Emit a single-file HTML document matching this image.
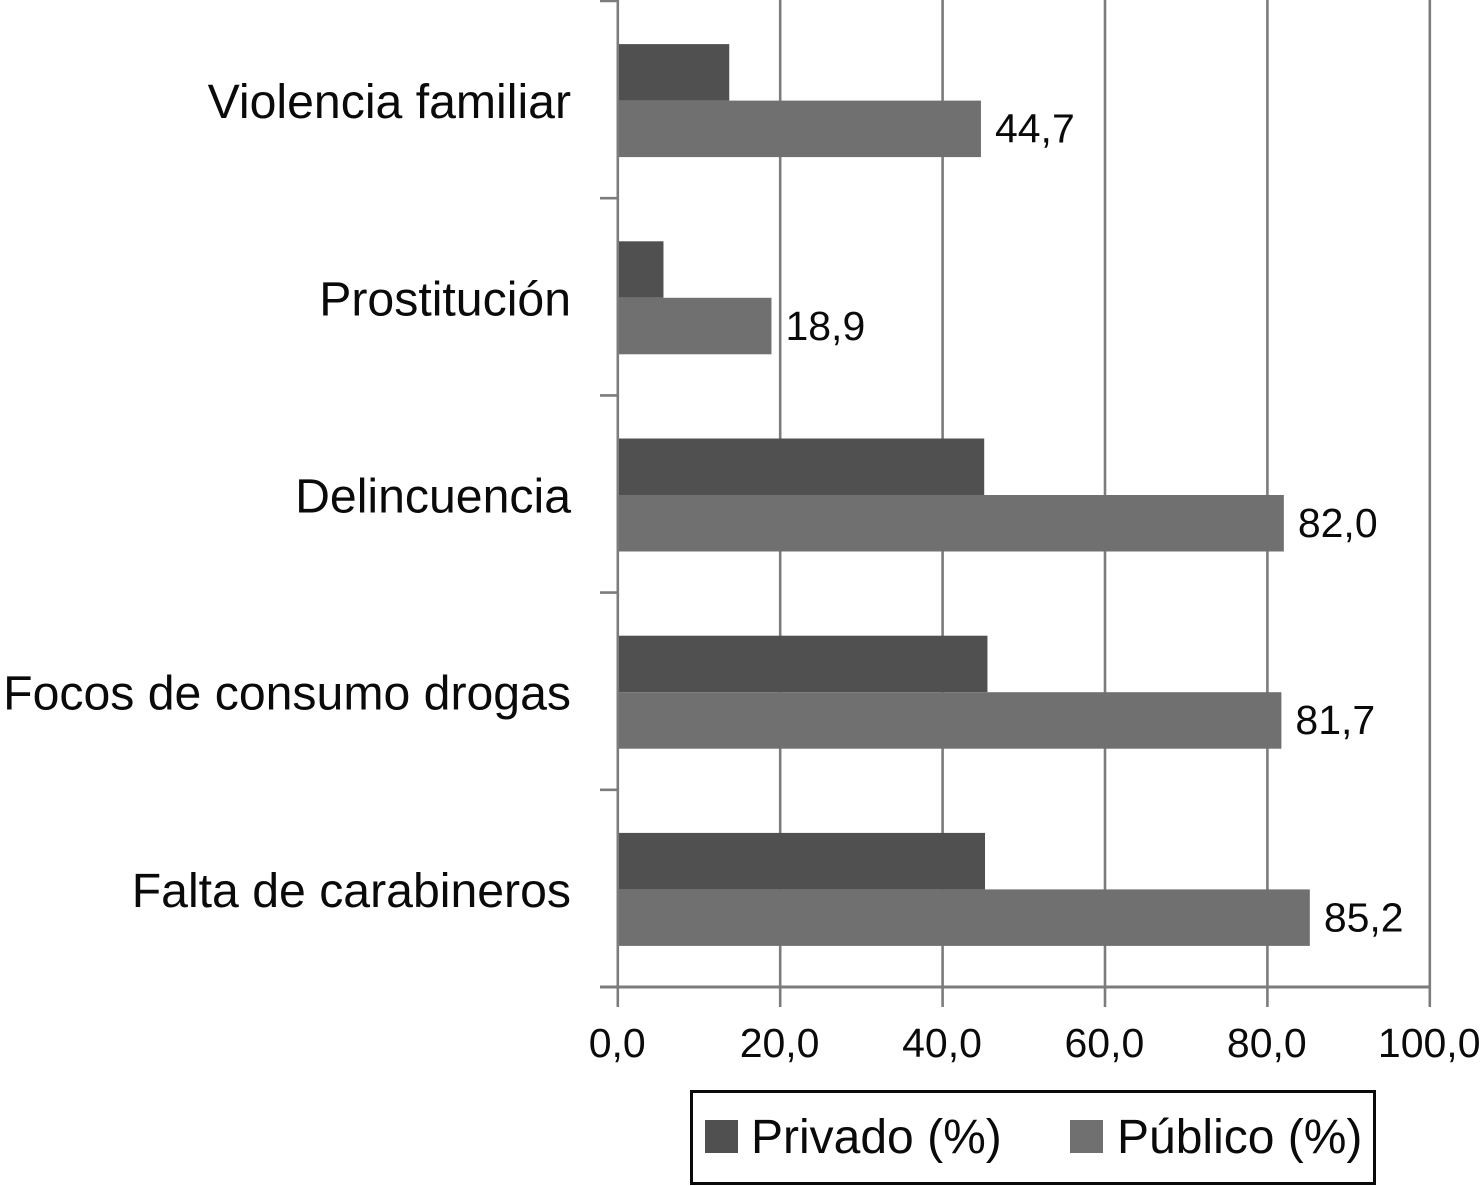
<!DOCTYPE html>
<html lang="es">
<head>
<meta charset="utf-8">
<title>Privado y Público</title>
<style>
html,body{margin:0;padding:0;background:#fff;width:1480px;height:1186px;overflow:hidden}
svg{display:block}
text{font-family:"Liberation Sans",Arial,sans-serif;fill:#0a0a0a}
</style>
</head>
<body>
<svg id="chart" xmlns="http://www.w3.org/2000/svg" width="1480" height="1186" viewBox="0 0 1480 1186">
  <rect x="0" y="0" width="1480" height="1186" fill="#fff"/>
  <g id="grid"></g>
  <g id="axes"></g>
  <g id="bars"></g>
  <g id="labels"></g>
  <g>
    <rect x="691.5" y="1091.5" width="683" height="92" fill="#fff" stroke="#0a0a0a" stroke-width="3"/>
    <rect x="705" y="1120" width="33" height="33" fill="#505050"/>
    <text x="751" y="1153" font-size="48">Privado (%)</text>
    <rect x="1070" y="1120" width="33" height="33" fill="#707070"/>
    <text x="1117" y="1153" font-size="48">Público (%)</text>
  </g>
</svg>
<script>
const categories = ["Violencia familiar", "Prostitución", "Delincuencia", "Focos de consumo drogas", "Falta de carabineros"];
const privado = [13.7, 5.6, 45.1, 45.5, 45.2];
const publico = [44.7, 18.9, 82.0, 81.7, 85.2];
const publicoLabels = ["44,7", "18,9", "82,0", "81,7", "85,2"];
const xTicks = [0, 20, 40, 60, 80, 100];
const xTickLabels = ["0,0", "20,0", "40,0", "60,0", "80,0", "100,0"];

const NS = "http://www.w3.org/2000/svg";
const plotLeft = 618, plotRight = 1430, plotTop = 1, plotBottom = 987;
const lineColor = "#7c7c7c";

function xScale(v) { return plotLeft + (v - xTicks[0]) / (xTicks[xTicks.length - 1] - xTicks[0]) * (plotRight - plotLeft); }
function bandHeight() { return (plotBottom - plotTop) / categories.length; }
function yBand(i) { return plotTop + i * bandHeight(); }

function make(parent, tag, attrs, text) {
  const el = document.createElementNS(NS, tag);
  Object.keys(attrs).forEach(function (k) { el.setAttribute(k, attrs[k]); });
  if (text !== undefined) el.textContent = text;
  parent.appendChild(el);
  return el;
}

const grid = document.getElementById("grid");
const axes = document.getElementById("axes");
const bars = document.getElementById("bars");
const labels = document.getElementById("labels");

xTicks.forEach(function (t, i) {
  const x = xScale(t);
  const line = make(grid, "line", { x1: x - 0.2, x2: x - 0.2, y1: 0, y2: 1007, stroke: lineColor, "stroke-width": 2.6 });
  
  
  const label = make(labels, "text", { x: x - 0.8, y: 1057, "font-size": 41, "text-anchor": "middle" }, xTickLabels[i]);
  
  
});

const xAxis = make(axes, "line", { x1: 600, x2: plotRight, y1: plotBottom, y2: plotBottom, stroke: lineColor, "stroke-width": 3 });



for (let i = 0; i <= categories.length; i++) {
  const tick = make(axes, "line", { x1: 600, x2: plotLeft, y1: yBand(i), y2: yBand(i), stroke: lineColor, "stroke-width": 2.6 });
  
  
}

categories.forEach(function (c, i) {
  const band = bandHeight();
  const barH = band * 0.2865;
  const mid = yBand(i) + band / 2 + 1;

  const pr = make(bars, "rect", { x: plotLeft + 1, y: mid - barH, width: xScale(privado[i]) - plotLeft - 1, height: barH, fill: "#505050" });
  
  

  const pu = make(bars, "rect", { x: plotLeft + 1, y: mid, width: xScale(publico[i]) - plotLeft - 1, height: barH, fill: "#707070" });
  
  

  const cat = make(labels, "text", { x: 571, y: mid + 17.5, "font-size": 48.2, "text-anchor": "end" }, c);
  
  

  const val = make(labels, "text", { x: xScale(publico[i]) + 14, y: mid + 42, "font-size": 41 }, publicoLabels[i]);
  
  
});
</script>
</body>
</html>
